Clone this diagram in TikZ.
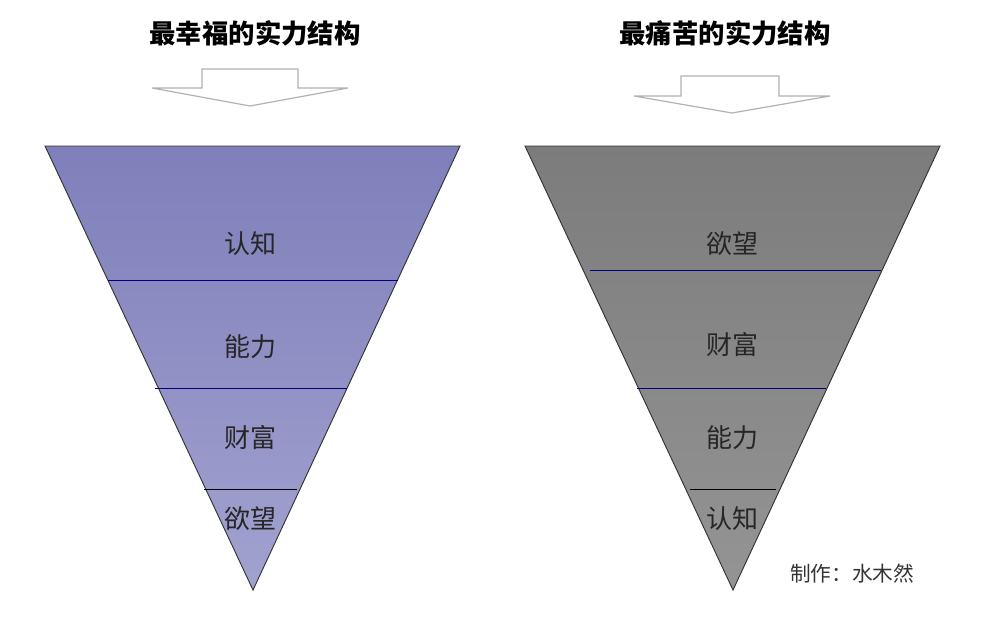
\documentclass[tikz,border=0pt]{standalone}
\usepackage{fontspec}
\newfontfamily\cjk{Noto Sans CJK SC}
\usetikzlibrary{shadings}
\begin{document}
\begin{tikzpicture}[x=0.75pt,y=-0.75pt,
  ttl/.style={font=\cjk\bfseries\fontsize{19.8}{23}\selectfont},
  lbl/.style={font=\cjk\fontsize{19.5}{23}\selectfont,text=black!85},
  arr/.style={draw=black!30,line width=0.9pt,fill=white},
  sep/.style={line width=0.6pt}]
\useasboundingbox (0,0) rectangle (983,628);
\node[ttl] (t1) at (255,33) {最幸福的实力结构};
\node[ttl] (t2) at (725,33) {最痛苦的实力结构};
\draw[arr] (202,69)--(298,69)--(298,88)--(348,88)--(250,106)--(152,88)--(202,88)--cycle;
\draw[arr] (681,76)--(779,76)--(779,96)--(830,96)--(732,113)--(634,96)--(681,96)--cycle;
\shade[top color={rgb,255:red,127;green,127;blue,187},bottom color={rgb,255:red,162;green,162;blue,208}] (45,146)--(460,146)--(253,590)--cycle;
\draw[black!80,line width=0.7pt] (45,146)--(460,146)--(253,590)--cycle;
\shade[top color={rgb,255:red,124;green,124;blue,124},bottom color={rgb,255:red,148;green,148;blue,148}] (525,146)--(940,146)--(733,590)--cycle;
\draw[black!80,line width=0.7pt] (525,146)--(940,146)--(733,590)--cycle;
\draw[sep,blue!50!black] (108,280)--(398,280);
\draw[sep,blue!50!black] (155,388)--(347,388);
\draw[sep,black] (204,489)--(297,489);
\draw[sep,blue!50!black] (590,270)--(881,270);
\draw[sep,blue!50!black] (637,388)--(826,388);
\draw[sep,black] (690,489)--(776,489);
\node[lbl] (a1) at (250,244) {认知};
\node[lbl] (a2) at (250,347) {能力};
\node[lbl] (a3) at (250,438) {财富};
\node[lbl] (a4) at (250,519) {欲望};
\node[lbl] (b1) at (732,244) {欲望};
\node[lbl] (b2) at (732,345) {财富};
\node[lbl] (b3) at (732,438) {能力};
\node[lbl] (b4) at (732,519) {认知};
\node[font=\cjk\fontsize{15.5}{18}\selectfont,text=black!80] (c) at (852,574) {制作：水木然};
\end{tikzpicture}
\end{document}
